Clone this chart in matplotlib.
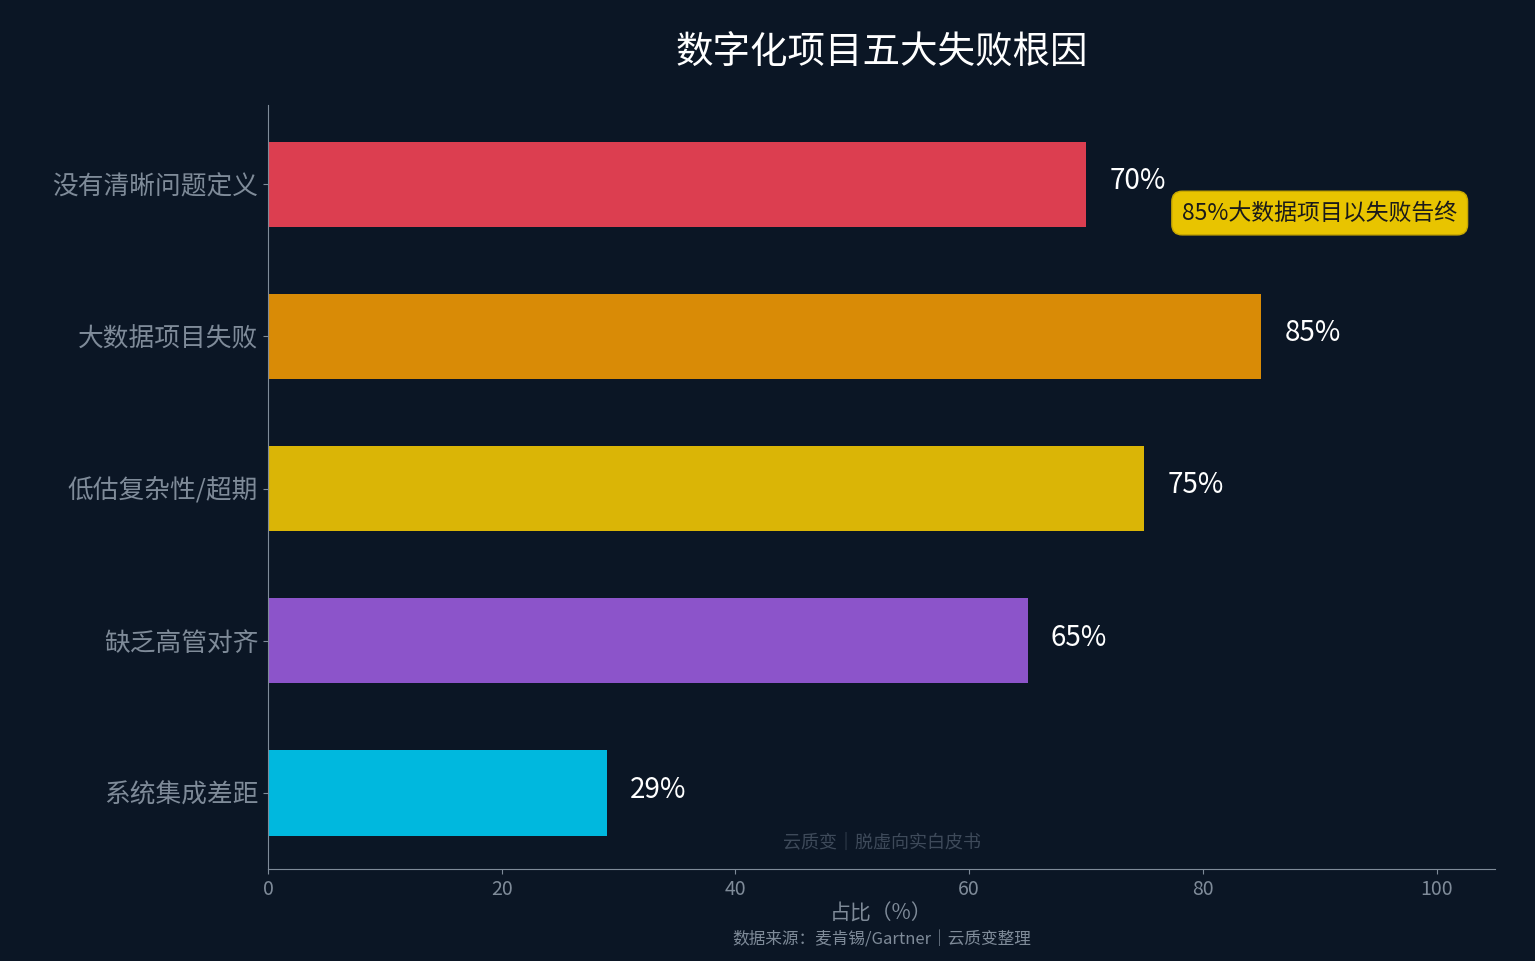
import matplotlib
matplotlib.use('Agg')
from matplotlib import pyplot as plt

plt.rcParams['font.family'] = ['Noto Sans CJK SC', 'DejaVu Sans']

categories = ['没有清晰问题定义', '大数据项目失败', '低估复杂性/超期', '缺乏高管对齐', '系统集成差距']
values = [70, 85, 75, 65, 29]
colors = ['#DC3E50', '#D98B06', '#DAB506', '#8C54CA', '#00B8DE']
bg = '#0B1625'

fig = plt.figure(figsize=(15.35, 9.61), dpi=100, facecolor=bg)
ax = fig.add_axes([268/1535, 1 - 869/961, (1495-268)/1535, (869-105)/961])
ax.set_facecolor(bg)

y = range(len(categories))
ax.barh(y, values, height=0.56, color=colors)
for i, v in enumerate(values):
    ax.text(v + 2, i - 0.02, f'{v}%', color='white', fontsize=20, va='center')

ax.set_yticks(list(y))
ax.set_yticklabels(categories, fontsize=18.5, color='#A9B4C2')
ax.set_xlim(0, 105)
ax.set_ylim(4.5, -0.52)
ax.set_xticks([0, 20, 40, 60, 80, 100])
ax.tick_params(axis='x', colors='#7F8B99', labelsize=14)
ax.tick_params(axis='y', colors='#7F8B99')
for s in ['top', 'right']:
    ax.spines[s].set_visible(False)
for s in ['left', 'bottom']:
    ax.spines[s].set_color('#7F8B99')
ax.set_xlabel('占比（%）', fontsize=15, color='#7F8B99', labelpad=2)

ax.text(90, 0.19, '85%大数据项目以失败告终', fontsize=16.5, color='#1A1A1A',
        ha='center', va='center',
        bbox=dict(boxstyle='round,pad=0.45', fc='#E8C400', ec='#C9A800'))

fig.text(882/1535, 1 - 52/961, '数字化项目五大失败根因', color='white', fontsize=27,
         ha='center', va='center')
fig.text(882/1535, 1 - 843/961, '云质变｜脱虚向实白皮书', color='#3E4A5A', fontsize=13,
         ha='center', va='center')
fig.text(882/1535, 1 - 940/961, '数据来源：麦肯锡/Gartner｜云质变整理', color='#7F8B99',
         fontsize=12, ha='center', va='center')

fig.savefig('out.png', dpi=100, facecolor=bg)
